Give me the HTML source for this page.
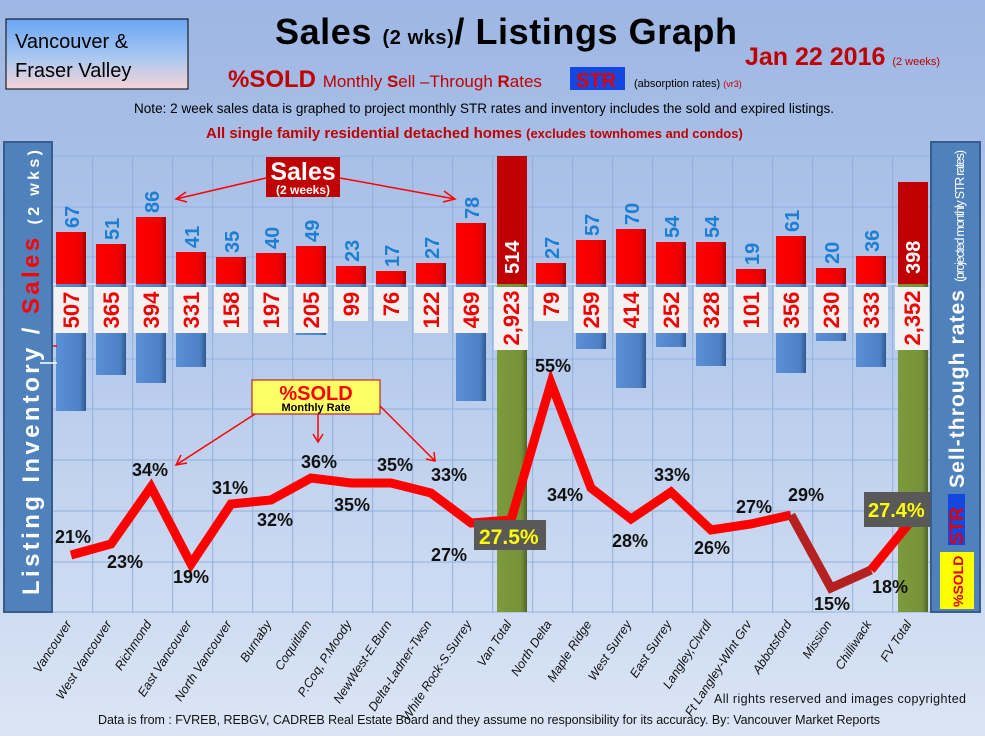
<!DOCTYPE html>
<html><head><meta charset="utf-8"><style>
body{margin:0;width:985px;height:736px;overflow:hidden;font-family:"Liberation Sans",sans-serif}
</style></head><body>
<svg width="985" height="736" xmlns="http://www.w3.org/2000/svg" font-family="Liberation Sans, sans-serif">
<defs>
<linearGradient id="bg" x1="0" y1="0" x2="0" y2="1"><stop offset="0" stop-color="#9db6e3"/><stop offset="0.5" stop-color="#b7cbec"/><stop offset="1" stop-color="#dbe5f5"/></linearGradient>
<linearGradient id="vb" x1="0" y1="0" x2="0" y2="1"><stop offset="0" stop-color="#6aa5f5"/><stop offset="0.55" stop-color="#a9c8f0"/><stop offset="1" stop-color="#f6d3d8"/></linearGradient>
<linearGradient id="rb" x1="0" y1="0" x2="1" y2="0"><stop offset="0" stop-color="#ff0000"/><stop offset="0.8" stop-color="#ee0000"/><stop offset="1" stop-color="#a00000"/></linearGradient>
<linearGradient id="bb" x1="0" y1="0" x2="1" y2="0"><stop offset="0" stop-color="#5b8fd6"/><stop offset="0.8" stop-color="#4e81c6"/><stop offset="1" stop-color="#2e5790"/></linearGradient>
<linearGradient id="gb" x1="0" y1="0" x2="1" y2="0"><stop offset="0" stop-color="#7d9a3c"/><stop offset="0.8" stop-color="#76923a"/><stop offset="1" stop-color="#4f6426"/></linearGradient>
</defs>
<rect width="985" height="736" fill="url(#bg)"/>
<!-- header -->
<rect x="6" y="19" width="182" height="70" fill="url(#vb)" stroke="#000" stroke-width="1"/>
<text x="15" y="48" font-size="20">Vancouver &amp;</text>
<text x="15" y="77" font-size="20">Fraser Valley</text>
<text x="275" y="44" font-size="36" font-weight="bold" textLength="462">Sales <tspan font-size="20">(2 wks)</tspan>/ Listings Graph</text>
<text x="745" y="65" font-size="25" font-weight="bold" fill="#c00000">Jan 22 2016 <tspan font-size="11" font-weight="normal">(2 weeks)</tspan></text>
<text x="228" y="87" font-size="24" font-weight="bold" fill="#c00000">%SOLD <tspan font-size="17" font-weight="normal">Monthly <tspan font-weight="bold">S</tspan>ell –Through <tspan font-weight="bold">R</tspan>ates</tspan></text>
<rect x="570" y="67" width="55" height="23" fill="#1446e0"/>
<text x="576" y="87" font-size="20" font-weight="bold" fill="#e00000">STR</text>
<text x="634" y="87" font-size="11">(absorption rates) <tspan fill="#c00000" font-size="9">(vr3)</tspan></text>
<text x="134" y="113" font-size="13.5" textLength="700">Note: 2 week sales data is graphed to project monthly STR rates and inventory includes the sold and expired listings.</text>
<text x="206" y="138" font-size="15" font-weight="bold" fill="#c00000">All single family residential detached homes <tspan font-size="13">(excludes townhomes and condos)</tspan></text>
<!-- grid -->
<g stroke="#8fb0e0" stroke-width="1">
<line x1="52" y1="156" x2="930" y2="156"/><line x1="52" y1="207" x2="930" y2="207"/><line x1="52" y1="257" x2="930" y2="257"/><line x1="52" y1="308" x2="930" y2="308"/><line x1="52" y1="359" x2="930" y2="359"/><line x1="52" y1="409" x2="930" y2="409"/><line x1="52" y1="460" x2="930" y2="460"/><line x1="52" y1="511" x2="930" y2="511"/><line x1="52" y1="562" x2="930" y2="562"/><line x1="52" y1="612" x2="930" y2="612"/>
<line x1="92.7" y1="156" x2="92.7" y2="612"/><line x1="132.7" y1="156" x2="132.7" y2="612"/><line x1="172.7" y1="156" x2="172.7" y2="612"/><line x1="212.7" y1="156" x2="212.7" y2="612"/><line x1="252.7" y1="156" x2="252.7" y2="612"/><line x1="292.7" y1="156" x2="292.7" y2="612"/><line x1="332.7" y1="156" x2="332.7" y2="612"/><line x1="372.7" y1="156" x2="372.7" y2="612"/><line x1="412.7" y1="156" x2="412.7" y2="612"/><line x1="452.7" y1="156" x2="452.7" y2="612"/><line x1="492.7" y1="156" x2="492.7" y2="612"/><line x1="532.7" y1="156" x2="532.7" y2="612"/><line x1="572.7" y1="156" x2="572.7" y2="612"/><line x1="612.7" y1="156" x2="612.7" y2="612"/><line x1="652.7" y1="156" x2="652.7" y2="612"/><line x1="692.7" y1="156" x2="692.7" y2="612"/><line x1="732.7" y1="156" x2="732.7" y2="612"/><line x1="772.7" y1="156" x2="772.7" y2="612"/><line x1="812.7" y1="156" x2="812.7" y2="612"/><line x1="852.7" y1="156" x2="852.7" y2="612"/><line x1="892.7" y1="156" x2="892.7" y2="612"/>
</g>
<line x1="52" y1="284" x2="930" y2="284" stroke="#d0dcef" stroke-width="2"/>
<!-- blue bars -->
<g fill="url(#bb)">
<rect x="56" y="284" width="30" height="127"/><rect x="96" y="284" width="30" height="91"/><rect x="136" y="284" width="30" height="99"/><rect x="176" y="284" width="30" height="83"/><rect x="216" y="284" width="30" height="40"/><rect x="256" y="284" width="30" height="49"/><rect x="296" y="284" width="30" height="51"/><rect x="336" y="284" width="30" height="25"/><rect x="376" y="284" width="30" height="19"/><rect x="416" y="284" width="30" height="30"/><rect x="456" y="284" width="30" height="117"/>
<rect x="536" y="284" width="30" height="20"/><rect x="576" y="284" width="30" height="65"/><rect x="616" y="284" width="30" height="104"/><rect x="656" y="284" width="30" height="63"/><rect x="696" y="284" width="30" height="82"/><rect x="736" y="284" width="30" height="25"/><rect x="776" y="284" width="30" height="89"/><rect x="816" y="284" width="30" height="57"/><rect x="856" y="284" width="30" height="83"/>
</g>
<rect x="497" y="284" width="30" height="328" fill="url(#gb)"/>
<rect x="898" y="284" width="30" height="328" fill="url(#gb)"/>
<!-- red bars -->
<g fill="url(#rb)">
<rect x="56" y="232" width="30" height="52"/><rect x="96" y="244" width="30" height="40"/><rect x="136" y="217" width="30" height="67"/><rect x="176" y="252" width="30" height="32"/><rect x="216" y="257" width="30" height="27"/><rect x="256" y="253" width="30" height="31"/><rect x="296" y="246" width="30" height="38"/><rect x="336" y="266" width="30" height="18"/><rect x="376" y="271" width="30" height="13"/><rect x="416" y="263" width="30" height="21"/><rect x="456" y="223" width="30" height="61"/>
<rect x="536" y="263" width="30" height="21"/><rect x="576" y="240" width="30" height="44"/><rect x="616" y="229" width="30" height="55"/><rect x="656" y="242" width="30" height="42"/><rect x="696" y="242" width="30" height="42"/><rect x="736" y="269" width="30" height="15"/><rect x="776" y="236" width="30" height="48"/><rect x="816" y="268" width="30" height="16"/><rect x="856" y="256" width="30" height="28"/>
</g>
<rect x="497" y="156" width="30" height="128" fill="#c00000"/>
<rect x="898" y="182" width="30" height="102" fill="#c00000"/>
<!-- sales labels -->
<g font-size="20" font-weight="bold" fill="#1c7fd2">
<text transform="translate(79,228) rotate(-90)">67</text><text transform="translate(119,240) rotate(-90)">51</text><text transform="translate(159,213) rotate(-90)">86</text><text transform="translate(199,248) rotate(-90)">41</text><text transform="translate(239,253) rotate(-90)">35</text><text transform="translate(279,249) rotate(-90)">40</text><text transform="translate(319,242) rotate(-90)">49</text><text transform="translate(359,262) rotate(-90)">23</text><text transform="translate(399,267) rotate(-90)">17</text><text transform="translate(439,259) rotate(-90)">27</text><text transform="translate(479,219) rotate(-90)">78</text>
<text transform="translate(559,259) rotate(-90)">27</text><text transform="translate(599,236) rotate(-90)">57</text><text transform="translate(639,225) rotate(-90)">70</text><text transform="translate(679,238) rotate(-90)">54</text><text transform="translate(719,238) rotate(-90)">54</text><text transform="translate(759,265) rotate(-90)">19</text><text transform="translate(799,232) rotate(-90)">61</text><text transform="translate(839,264) rotate(-90)">20</text><text transform="translate(879,252) rotate(-90)">36</text>
</g>
<g font-size="20" font-weight="bold" fill="#fff">
<text transform="translate(519,274) rotate(-90)">514</text><text transform="translate(920,274) rotate(-90)">398</text>
</g>
<!-- inventory label boxes -->
<g fill="#f2f2f2">
<rect x="54" y="287" width="34" height="46"/><rect x="94" y="287" width="34" height="46"/><rect x="134" y="287" width="34" height="46"/><rect x="174" y="287" width="34" height="46"/><rect x="214" y="287" width="34" height="46"/><rect x="254" y="287" width="34" height="46"/><rect x="294" y="287" width="34" height="46"/><rect x="334" y="287" width="34" height="34"/><rect x="374" y="287" width="34" height="34"/><rect x="414" y="287" width="34" height="46"/><rect x="454" y="287" width="34" height="46"/><rect x="494" y="287" width="34" height="63"/>
<rect x="534" y="287" width="34" height="34"/><rect x="574" y="287" width="34" height="46"/><rect x="614" y="287" width="34" height="46"/><rect x="654" y="287" width="34" height="46"/><rect x="694" y="287" width="34" height="46"/><rect x="734" y="287" width="34" height="46"/><rect x="774" y="287" width="34" height="46"/><rect x="814" y="287" width="34" height="46"/><rect x="854" y="287" width="34" height="46"/><rect x="895" y="287" width="34" height="63"/>
</g>
<g font-size="22" font-weight="bold" fill="#f00000" text-anchor="middle">
<text transform="translate(79,310) rotate(-90)">507</text><text transform="translate(119,310) rotate(-90)">365</text><text transform="translate(159,310) rotate(-90)">394</text><text transform="translate(199,310) rotate(-90)">331</text><text transform="translate(239,310) rotate(-90)">158</text><text transform="translate(279,310) rotate(-90)">197</text><text transform="translate(319,310) rotate(-90)">205</text><text transform="translate(359,304) rotate(-90)">99</text><text transform="translate(399,304) rotate(-90)">76</text><text transform="translate(439,310) rotate(-90)">122</text><text transform="translate(479,310) rotate(-90)">469</text><text transform="translate(519,318) rotate(-90)">2,923</text>
<text transform="translate(559,304) rotate(-90)">79</text><text transform="translate(599,310) rotate(-90)">259</text><text transform="translate(639,310) rotate(-90)">414</text><text transform="translate(679,310) rotate(-90)">252</text><text transform="translate(719,310) rotate(-90)">328</text><text transform="translate(759,310) rotate(-90)">101</text><text transform="translate(799,310) rotate(-90)">356</text><text transform="translate(839,310) rotate(-90)">230</text><text transform="translate(879,310) rotate(-90)">333</text><text transform="translate(920,318) rotate(-90)">2,352</text>
</g>
<!-- line -->
<polyline points="71,555 111,544 151,487 191,564 231,504 271,500 311,478 351,483 391,483 431,493 471,523 511,520 551,383 591,488 631,519 671,492 711,530 751,524 791,515" fill="none" stroke="#f00" stroke-width="9" stroke-linejoin="miter"/>
<polyline points="791,515 831,588 871,570" fill="none" stroke="#b52020" stroke-width="9"/>
<polyline points="871,570 911,521" fill="none" stroke="#f00" stroke-width="9"/>
<!-- pct labels -->
<g font-size="18" font-weight="bold" fill="#111">
<text x="55" y="543">21%</text><text x="107" y="568">23%</text><text x="132" y="476">34%</text><text x="173" y="583">19%</text><text x="212" y="494">31%</text><text x="257" y="526">32%</text><text x="301" y="468">36%</text><text x="334" y="511">35%</text><text x="377" y="471">35%</text><text x="431" y="481">33%</text><text x="431" y="561">27%</text>
<text x="535" y="372">55%</text><text x="547" y="501">34%</text><text x="612" y="547">28%</text><text x="654" y="481">33%</text><text x="694" y="554">26%</text><text x="736" y="513">27%</text><text x="788" y="501">29%</text><text x="814" y="610">15%</text><text x="872" y="593">18%</text>
</g>
<rect x="474" y="520" width="72" height="30" fill="#595959"/>
<text x="479" y="544" font-size="21" font-weight="bold" fill="#ffff00">27.5%</text>
<rect x="864" y="492" width="67" height="35" fill="#595959"/>
<text x="868" y="517" font-size="20" font-weight="bold" fill="#ffff00">27.4%</text>
<!-- callouts -->
<g stroke="#f00" stroke-width="1.5" fill="none">
<line x1="266" y1="178" x2="176" y2="199"/><polyline points="186,192 176,199 187,202"/>
<line x1="340" y1="178" x2="455" y2="199"/><polyline points="444,191 455,199 443,202"/>
<line x1="255" y1="414" x2="176" y2="465"/><polyline points="181,455 176,465 187,463"/>
<line x1="318" y1="414" x2="318" y2="442"/><polyline points="313,434 318,442 323,434"/>
<line x1="380" y1="406" x2="435" y2="461"/><polyline points="426,459 435,461 434,452"/>
<line x1="945" y1="505" x2="930" y2="505"/><polyline points="937,500 930,505 937,510"/>
<line x1="40" y1="346" x2="57" y2="346"/>
</g>
<rect x="266" y="157" width="74" height="40" fill="#c00000"/>
<text x="303" y="180" font-size="25" font-weight="bold" fill="#fff" text-anchor="middle">Sales</text>
<text x="303" y="194" font-size="12" font-weight="bold" fill="#fff" text-anchor="middle">(2 weeks)</text>
<rect x="252" y="380" width="128" height="34" fill="#ffff66" stroke="#c00000" stroke-width="1"/>
<text x="316" y="400" font-size="20" font-weight="bold" fill="#f00" text-anchor="middle">%SOLD</text>
<text x="316" y="411" font-size="11" font-weight="bold" fill="#000" text-anchor="middle">Monthly Rate</text>
<!-- side panels -->
<rect x="4" y="142" width="48" height="470" fill="#4f81bd" stroke="#385d8a" stroke-width="2"/>
<text transform="translate(39,595) rotate(-90)" font-size="24" font-weight="bold" fill="#fff" textLength="445">Listing Inventory / <tspan fill="#f00">Sales</tspan> <tspan font-size="16">(2  wks)</tspan></text>
<polyline points="40,363 57,363" stroke="#fff" stroke-width="1.5"/>
<rect x="931" y="142" width="49" height="470" fill="#4f81bd" stroke="#385d8a" stroke-width="2"/>
<text transform="translate(964,488) rotate(-90)" font-size="21" font-weight="bold" fill="#fff" textLength="198">Sell-through rates</text>
<text transform="translate(964,282) rotate(-90)" font-size="12.5" fill="#fff" textLength="132">(projected monthly STR rates)</text>
<rect x="948" y="494" width="17" height="51" fill="#1446e0"/>
<text transform="translate(963,545) rotate(-90)" font-size="19" font-weight="bold" fill="#e00000">STR</text>
<rect x="940" y="552" width="34" height="57" fill="#ffff00"/>
<text transform="translate(963,607) rotate(-90)" font-size="14" font-weight="bold" fill="#e00000">%SOLD</text>
<!-- x labels -->
<g font-size="12.5" font-style="italic" fill="#111" text-anchor="end">
<text transform="translate(72,624) rotate(-57)">Vancouver</text><text transform="translate(112,624) rotate(-57)">West Vancouver</text><text transform="translate(152,624) rotate(-57)">Richmond</text><text transform="translate(192,624) rotate(-57)">East Vancouver</text><text transform="translate(232,624) rotate(-57)">North Vancouver</text><text transform="translate(272,624) rotate(-57)">Burnaby</text><text transform="translate(312,624) rotate(-57)">Coquitlam</text><text transform="translate(352,624) rotate(-57)">P.Coq, P.Moody</text><text transform="translate(392,624) rotate(-57)">NewWest-E.Burn</text><text transform="translate(432,624) rotate(-57)">Delta-Ladner-Twsn</text><text transform="translate(472,624) rotate(-57)">White Rock-S.Surrey</text><text transform="translate(512,624) rotate(-57)">Van Total</text>
<text transform="translate(552,624) rotate(-57)">North Delta</text><text transform="translate(592,624) rotate(-57)">Maple Ridge</text><text transform="translate(632,624) rotate(-57)">West Surrey</text><text transform="translate(672,624) rotate(-57)">East Surrey</text><text transform="translate(712,624) rotate(-57)">Langley,Clvrdl</text><text transform="translate(752,624) rotate(-57)">Ft Langley-Wlnt Grv</text><text transform="translate(792,624) rotate(-57)">Abbotsford</text><text transform="translate(832,624) rotate(-57)">Mission</text><text transform="translate(872,624) rotate(-57)">Chilliwack</text><text transform="translate(912,624) rotate(-57)">FV Total</text>
</g>
<text x="714" y="703" font-size="12.5" fill="#111" textLength="252">All rights reserved and  images copyrighted</text>
<text x="98" y="724" font-size="12.5" fill="#111" textLength="782">Data is from : FVREB, REBGV, CADREB Real Estate Board and they assume no responsibility for its accuracy. By: Vancouver Market Reports</text>
</svg>
</body></html>
